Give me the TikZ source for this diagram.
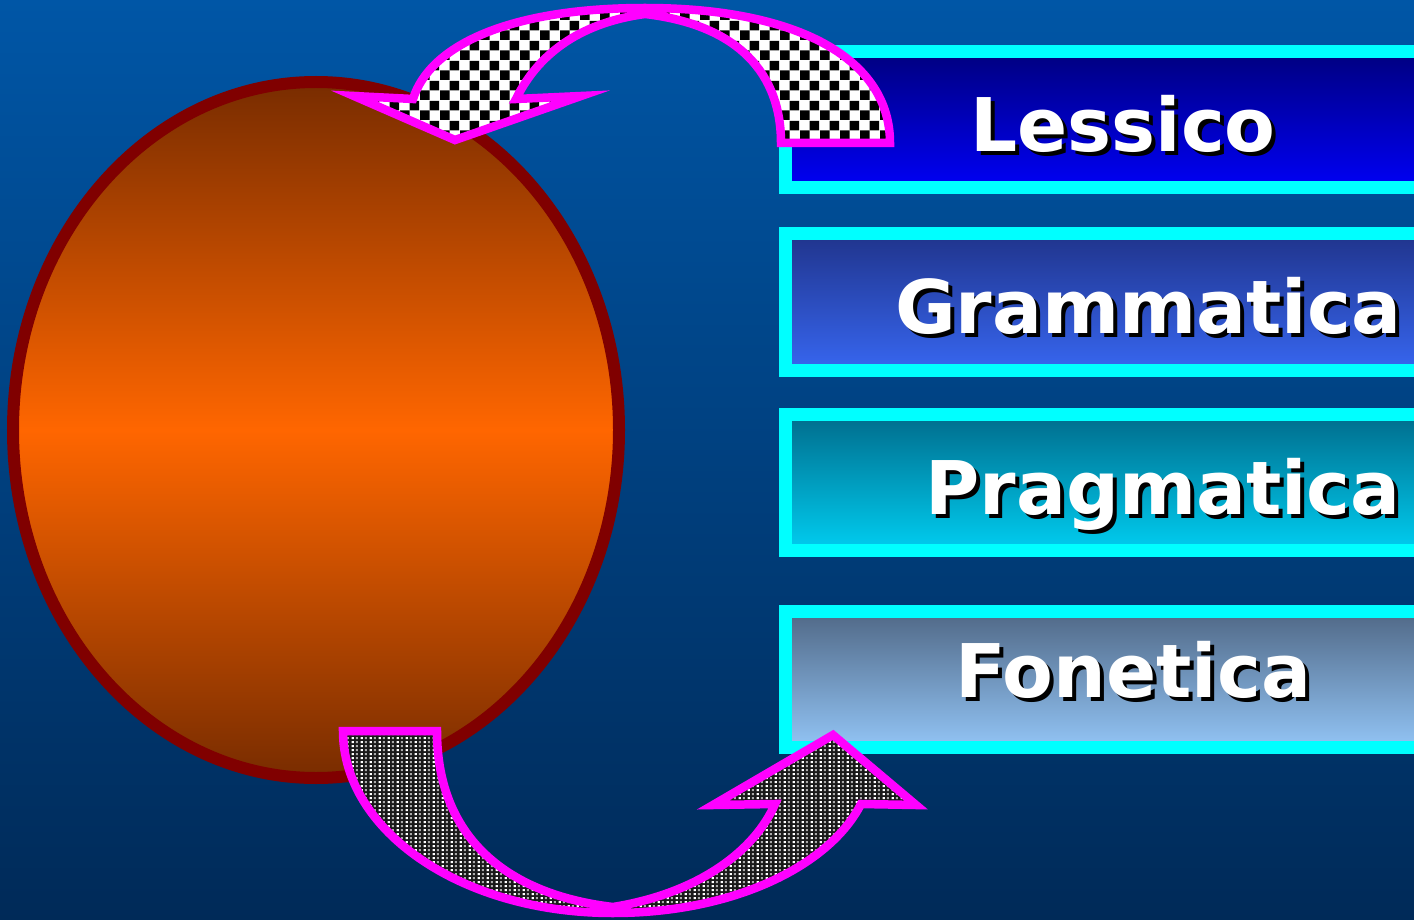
\documentclass[tikz,border=0pt]{standalone}
\usepackage{fontspec}
\newfontfamily\lblfont{DejaVu Sans}
\usetikzlibrary{patterns.meta}
\definecolor{bgtop}{RGB}{0,86,166}
\definecolor{bgbot}{RGB}{0,42,88}
\definecolor{ebrown}{RGB}{120,44,0}
\definecolor{eorange}{RGB}{255,102,0}
\definecolor{eborder}{RGB}{128,0,0}
\definecolor{mag}{RGB}{255,0,255}
\definecolor{aqua}{RGB}{0,255,255}
\definecolor{bAtop}{RGB}{0,0,128}
\definecolor{bAbot}{RGB}{0,0,245}
\definecolor{bBtop}{RGB}{32,52,140}
\definecolor{bBbot}{RGB}{55,102,240}
\definecolor{bCtop}{RGB}{0,108,140}
\definecolor{bCbot}{RGB}{0,205,240}
\definecolor{bDtop}{RGB}{80,104,134}
\definecolor{bDbot}{RGB}{146,196,245}
\definecolor{dotgray}{RGB}{170,170,170}
\definecolor{dotbase}{RGB}{25,25,25}
\tikzdeclarepattern{
  name=bigchecker, type=uncolored,
  bounding box={(0pt,0pt) and (20pt,20pt)},
  tile size={(20pt,20pt)},
  code={\fill (0pt,0pt) rectangle (10pt,10pt); \fill (10pt,10pt) rectangle (20pt,20pt);}
}
\tikzdeclarepattern{
  name=finedots, type=colored,
  bounding box={(0pt,0pt) and (9pt,4.4pt)},
  tile size={(9pt,4.4pt)},
  code={\fill[dotbase] (0pt,0pt) rectangle (9pt,4.4pt);
        \fill[white] (0.8pt,0.9pt) rectangle (3.2pt,3.3pt);
        \fill[dotgray] (5.3pt,0.9pt) rectangle (7.7pt,3.3pt);}
}
\begin{document}
\begin{tikzpicture}[x=1pt,y=-1pt,
  boxframe/.style={draw=aqua, line width=13pt},
  arrowline/.style={draw=mag, line width=8.5pt, line join=miter},
  lbl/.style={font=\lblfont\bfseries\fontsize{74}{80}\selectfont, text=white, anchor=base, inner sep=0pt},
  shadowlbl/.style={lbl, text=black}]
\useasboundingbox (0,0) rectangle (1414,920);
% background
\shade[top color=bgtop, bottom color=bgbot] (0,0) rectangle (1414,920);
% ellipse
\draw[line width=12pt, draw=eborder, top color=ebrown, bottom color=ebrown, middle color=eorange]
  (316,430) ellipse [x radius=303pt, y radius=348pt];
% boxes
\draw[boxframe, top color=bAtop, bottom color=bAbot] (785,52) rectangle (1440,188);
\draw[boxframe, top color=bBtop, bottom color=bBbot] (785,234) rectangle (1440,370);
\draw[boxframe, top color=bCtop, bottom color=bCbot] (785,414) rectangle (1440,550);
\draw[boxframe, top color=bDtop, bottom color=bDbot] (785,611) rectangle (1440,747);
% labels
\node[shadowlbl] (lessicoS) at (1127,156) {Lessico};
\node[lbl] (lessico) at (1123,152) {Lessico};
\node[shadowlbl] (grammS) at (1152,337) {Grammatica};
\node[lbl] (gramm) at (1148,333) {Grammatica};
\node[shadowlbl] (pragmS) at (1167,518) {Pragmatica};
\node[lbl] (pragm) at (1163,514) {Pragmatica};
\node[shadowlbl] (fonS) at (1137,701) {Fonetica};
\node[lbl] (fon) at (1133,697) {Fonetica};
% top curved arrow
\draw[arrowline, preaction={fill=white}, pattern=bigchecker, pattern color=black]
  (890,143) .. controls (890,60) and (800,8) .. (645,8)
  .. controls (510,8) and (430,45) .. (413,99)
  -- (354,96) -- (455,140) -- (581,96) -- (516,99)
  .. controls (540,50) and (585,22) .. (645,14)
  .. controls (740,25) and (781,75) .. (781,143)
  -- cycle;
% bottom curved arrow
\draw[arrowline, preaction={fill=black}, pattern=finedots]
  (343,731) .. controls (343,830) and (460,913) .. (613,913)
  .. controls (735,913) and (830,865) .. (861,804)
  -- (916,805) -- (833,735) -- (713,805) -- (775,804)
  .. controls (755,850) and (700,893) .. (613,907)
  .. controls (510,895) and (437,840) .. (437,731)
  -- cycle;
\end{tikzpicture}
\end{document}
